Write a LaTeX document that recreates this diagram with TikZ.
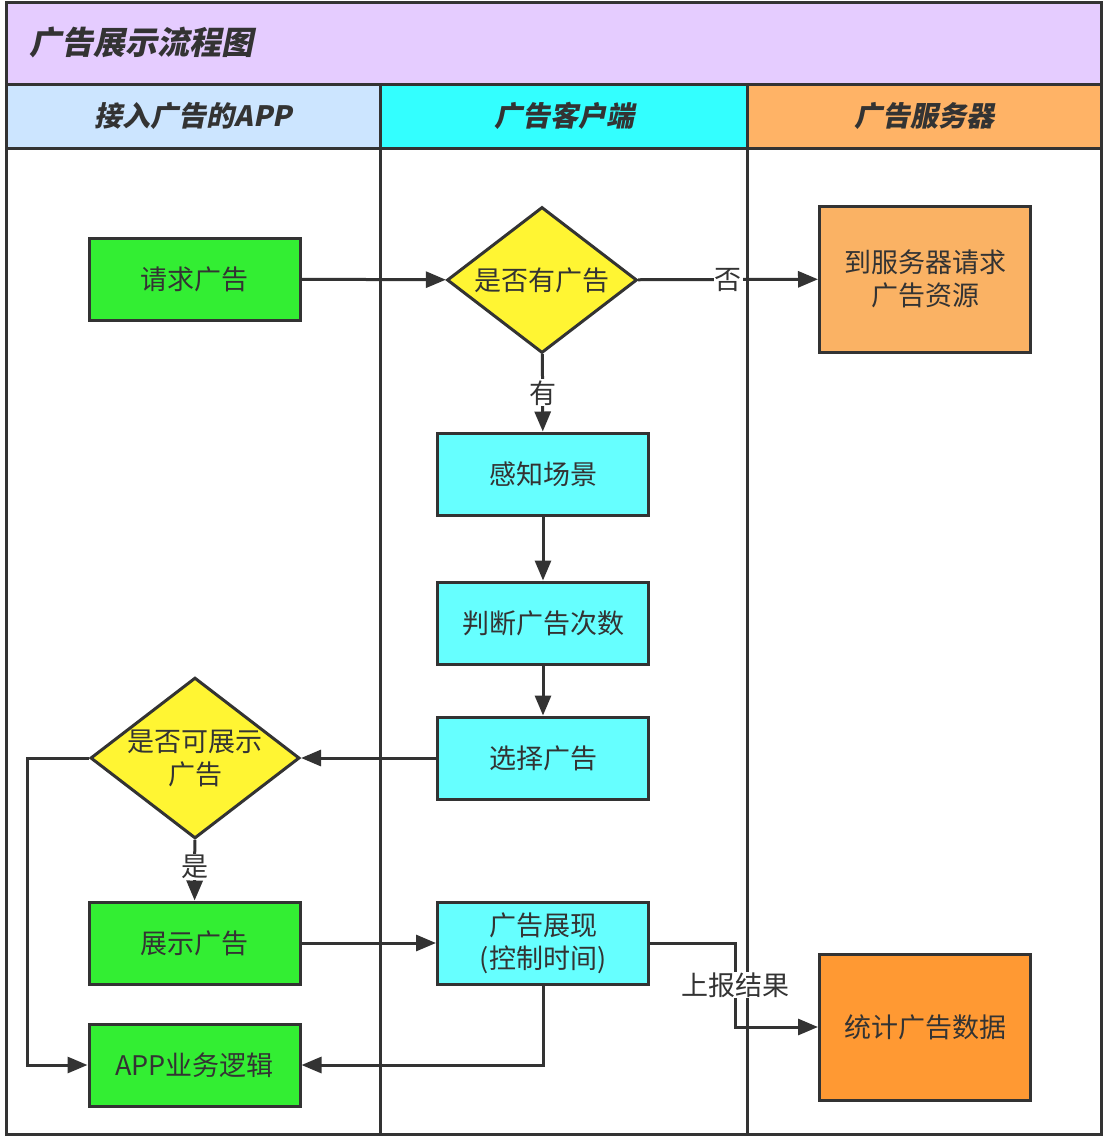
\documentclass[tikz,border=0pt]{standalone}
\usepackage{fontspec}
\setmainfont{Noto Sans CJK SC}
\newfontfamily\cjkhead{Noto Sans CJK SC}[FakeSlant=0.2]
\usetikzlibrary{shapes.geometric,arrows.meta}
\definecolor{ln}{HTML}{333333}
\begin{document}
\begin{tikzpicture}[x=1pt,y=-1pt,
  box/.style={draw=ln,line width=3pt,minimum width=211pt,minimum height=82pt,align=center,font=\fontsize{27}{33}\selectfont,text=ln,inner sep=0pt},
  dia/.style={diamond,draw=ln,line width=3pt,fill=yellow!80!white,minimum width=190pt,minimum height=146pt,inner sep=0pt,aspect=1.3,align=center,text=ln,font=\fontsize{27}{33}\selectfont},
  ar/.style={draw=ln,line width=3pt,-{Triangle[length=20pt,width=16pt]}},
  lab/.style={fill=white,inner sep=1pt,text=ln,font=\fontsize{27}{33}\selectfont},
  hd/.style={text=ln,font=\cjkhead\bfseries\fontsize{28}{32}\selectfont}]
\useasboundingbox (0,0) rectangle (1105,1144);
\fill[white] (0,0) rectangle (1105,1144);
\filldraw[fill={rgb,255:red,229;green,204;blue,255},draw=ln,line width=3pt] (6,2) rectangle (1101,84);
\node[hd,font=\cjkhead\bfseries\fontsize{32}{36}\selectfont,anchor=west] (title) at (26,42) {广告展示流程图};
\filldraw[fill={rgb,255:red,204;green,229;blue,255},draw=ln,line width=3pt] (6,84) rectangle (380,148);
\filldraw[fill={rgb,255:red,51;green,255;blue,255},draw=ln,line width=3pt] (380,84) rectangle (747,148);
\filldraw[fill={rgb,255:red,255;green,179;blue,102},draw=ln,line width=3pt] (747,84) rectangle (1101,148);
\node[hd] (h1) at (193,116) {接入广告的APP};
\node[hd] (h2) at (564,116) {广告客户端};
\node[hd] (h3) at (924,116) {广告服务器};
\draw[ln,line width=3pt] (6,148) rectangle (1101,1134);
\draw[ln,line width=3pt] (380,148) -- (380,1134) (747,148) -- (747,1134);
\node[box,fill={rgb,255:red,51;green,238;blue,51}] (req) at (194.5,279) {请求广告};
\node[dia] (has) at (542,280) {是否有广告};
\node[box,fill={rgb,255:red,250;green,178;blue,100},minimum height=146pt] (srv) at (925,279) {到服务器请求\\广告资源};
\node[box,fill={rgb,255:red,102;green,255;blue,255}] (sense) at (543,474) {感知场景};
\node[box,fill={rgb,255:red,102;green,255;blue,255}] (judge) at (543,623) {判断广告次数};
\node[box,fill={rgb,255:red,102;green,255;blue,255}] (sel) at (543,758) {选择广告};
\node[dia] (can) at (195,758) {是否可展示\\广告};
\node[box,fill={rgb,255:red,51;green,238;blue,51}] (show) at (194.5,943) {展示广告};
\node[box,fill={rgb,255:red,102;green,255;blue,255}] (disp) at (543,943) {广告展现\\(控制时间)};
\node[box,fill={rgb,255:red,51;green,238;blue,51}] (app) at (194.5,1065) {APP业务逻辑};
\node[box,fill={rgb,255:red,255;green,153;blue,51},minimum height=146pt] (stat) at (925,1027) {统计广告数据};
\draw[ar] (req) -- (has);
\draw[ar] (has) -- node[lab,pos=0.5]{否} (srv);
\draw[ar] (has) -- node[lab]{有} (sense);
\draw[ar] (sense) -- (judge);
\draw[ar] (judge) -- (sel);
\draw[ar] (sel) -- (can);
\draw[ar] (can) -- node[lab,pos=0.45]{是} (show);
\draw[ar] (can.west) -- (27,758) -- (27,1065) -- (app.west);
\draw[ar] (show) -- (disp);
\draw[ar] (disp.south) -- (543,1065) -- (app.east);
\draw[ar] (disp.east) -- (735,943) -- node[lab]{上报结果} (735,1027) -- (stat.west);
\end{tikzpicture}
\end{document}
